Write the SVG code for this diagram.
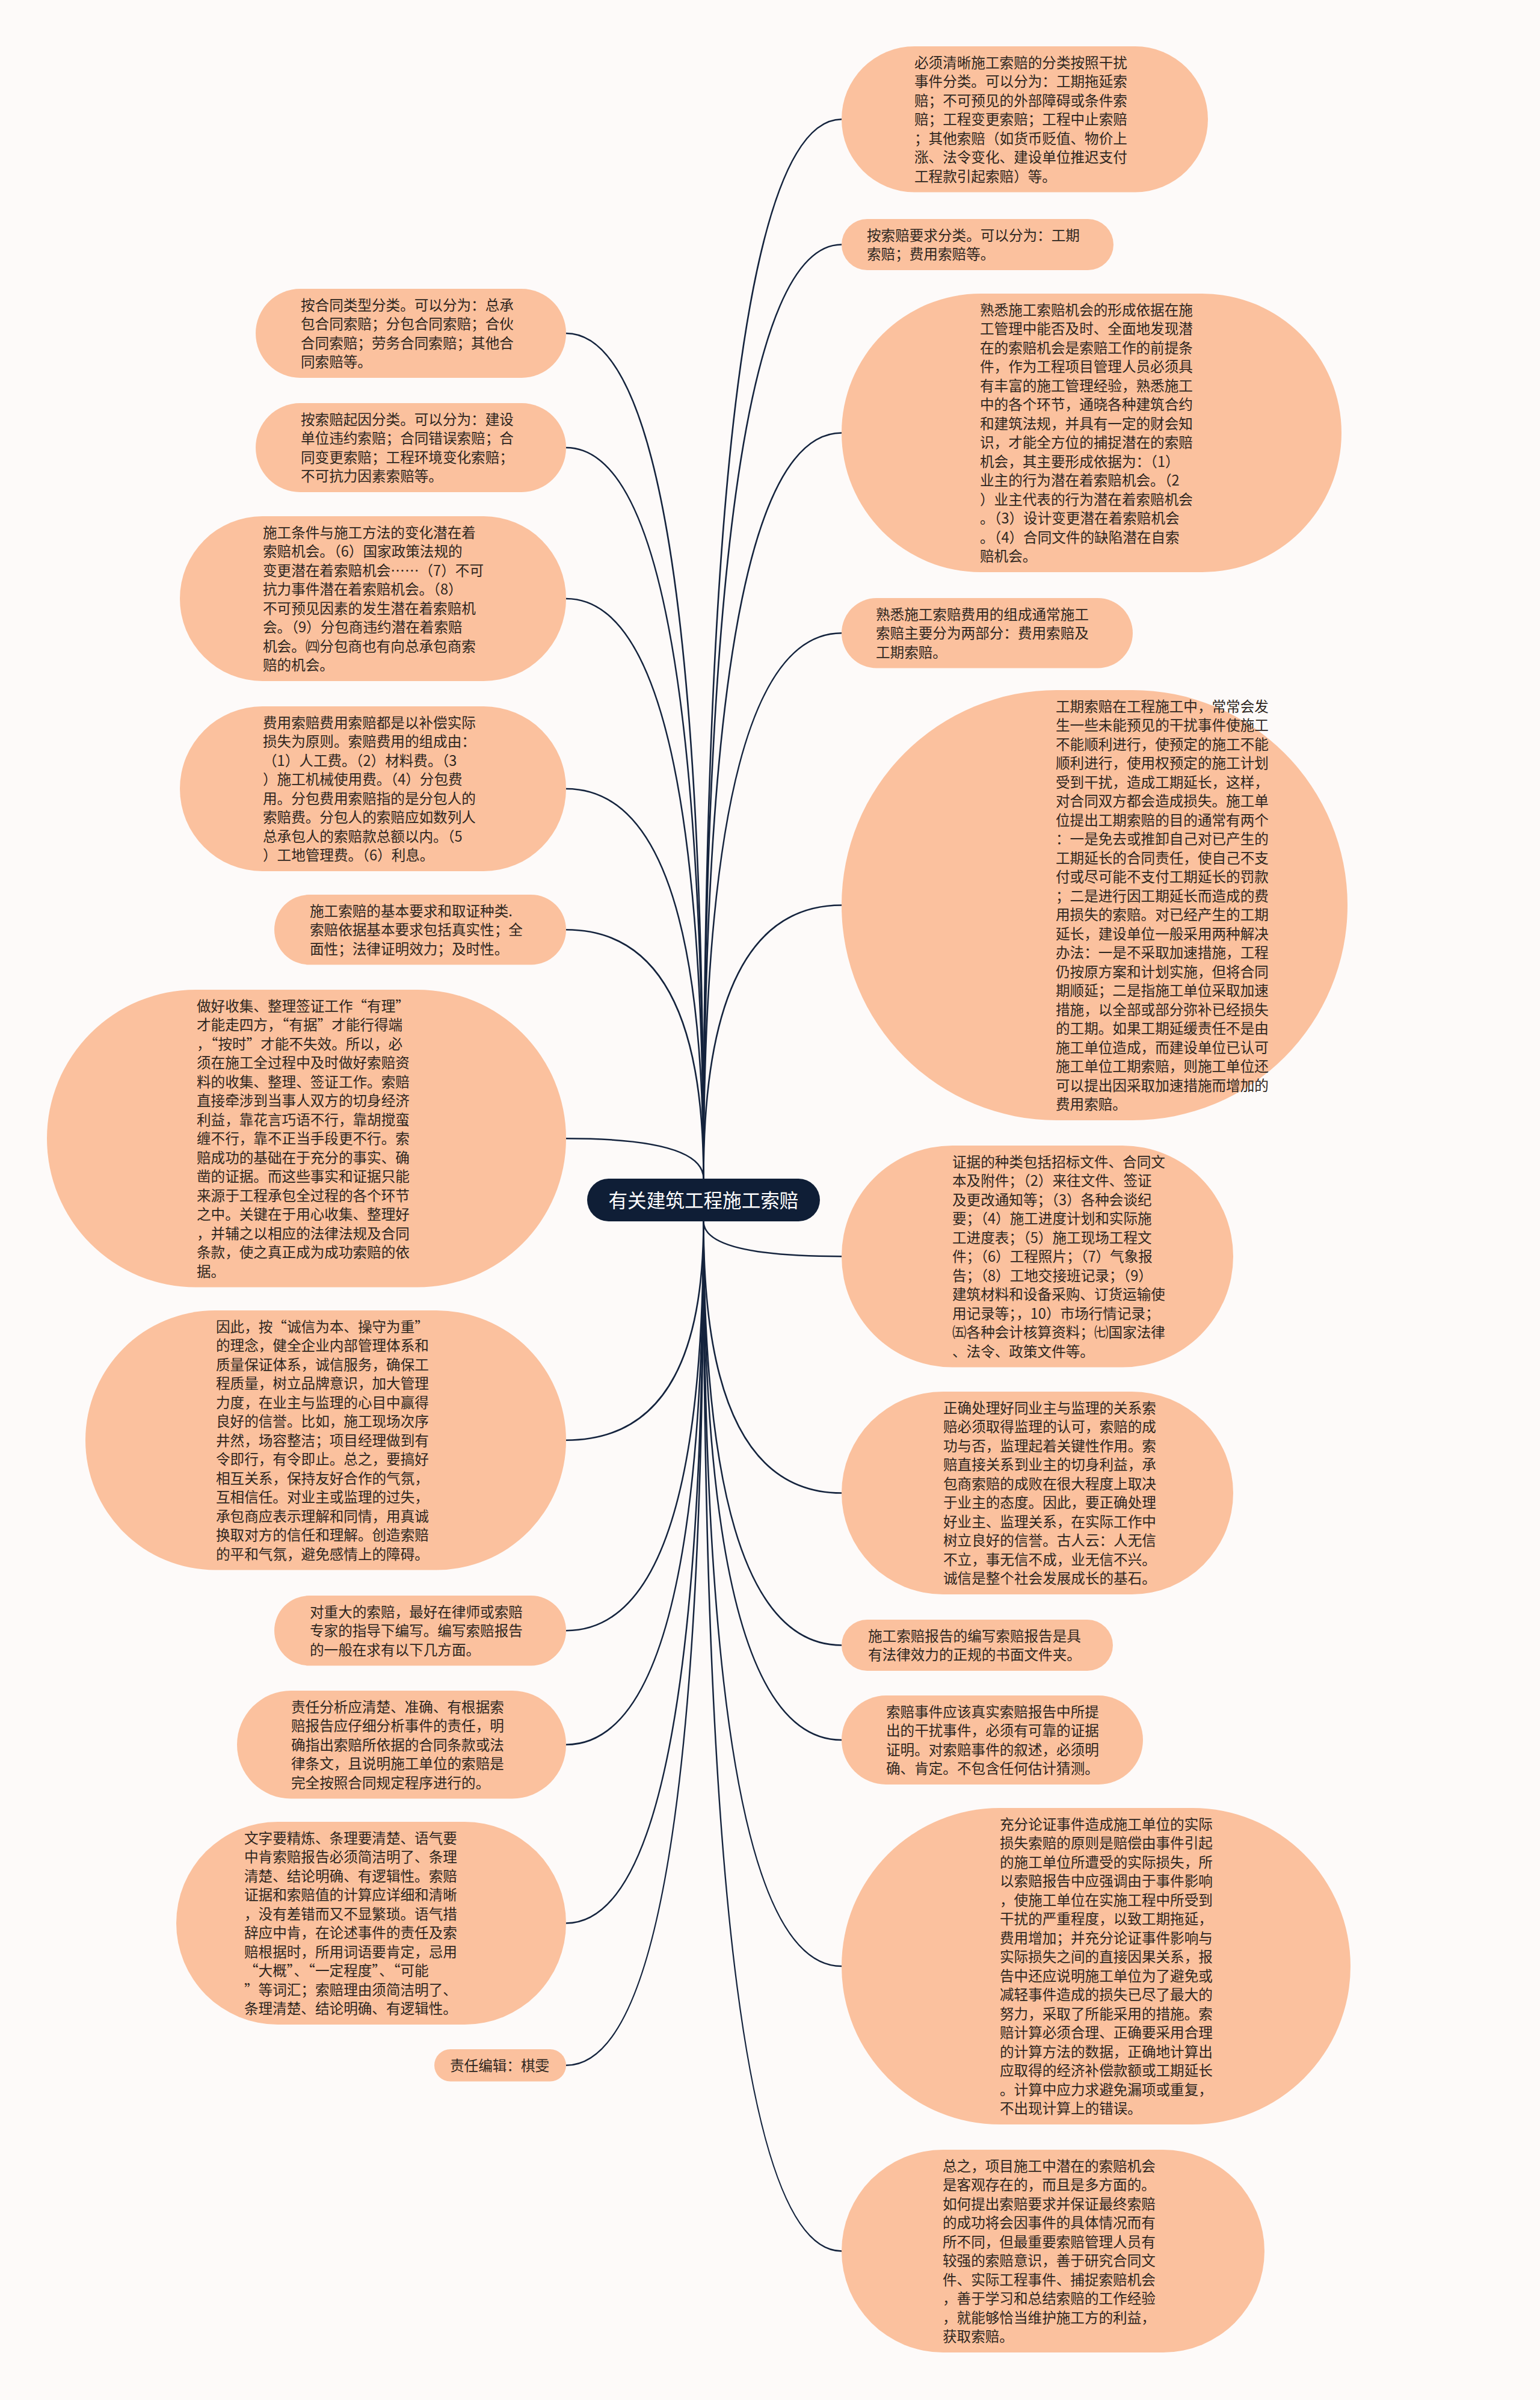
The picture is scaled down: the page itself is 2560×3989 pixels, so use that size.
<svg xmlns="http://www.w3.org/2000/svg" width="2560" height="3989" viewBox="0 0 2560 3989">
<style>
.bg{fill:#fdfaf9}
.n rect{fill:#fbc19e}
.t{font-family:"Noto Sans CJK SC","Noto Sans",sans-serif;font-size:23.6px;fill:#2e2620}
.rt{font-family:"Noto Sans CJK SC","Noto Sans",sans-serif;font-size:31.6px;fill:#ffffff}
.c path{fill:none;stroke:#14233d;stroke-width:2.6}
</style>
<rect class="bg" x="0" y="0" width="2560" height="3989"/>
<g id="connectors" class="c">
<path d="M1169.5 1959 Q1169.5 198.25 1399 198.25"/>
<path d="M1169.5 1959 Q1169.5 406.5 1399 406.5"/>
<path d="M1169.5 1959 Q1169.5 719.5 1399 719.5"/>
<path d="M1169.5 1959 Q1169.5 1052.25 1399 1052.25"/>
<path d="M1169.5 1959 Q1169.5 1504.5 1399 1504.5"/>
<path d="M1169.5 1959 Q1169.5 554 941 554"/>
<path d="M1169.5 1959 Q1169.5 744 941 744"/>
<path d="M1169.5 1959 Q1169.5 995 941 995"/>
<path d="M1169.5 1959 Q1169.5 1311 941 1311"/>
<path d="M1169.5 1959 Q1169.5 1545.25 941 1545.25"/>
<path d="M1169.5 1959 Q1169.5 1892.25 941 1892.25"/>
<path d="M1169.5 2030 Q1169.5 2088.25 1399 2088.25"/>
<path d="M1169.5 2030 Q1169.5 2481.5 1399 2481.5"/>
<path d="M1169.5 2030 Q1169.5 2734.5 1399 2734.5"/>
<path d="M1169.5 2030 Q1169.5 2892 1399 2892"/>
<path d="M1169.5 2030 Q1169.5 3268 1399 3268"/>
<path d="M1169.5 2030 Q1169.5 3741.5 1399 3741.5"/>
<path d="M1169.5 2030 Q1169.5 2393.75 941 2393.75"/>
<path d="M1169.5 2030 Q1169.5 2710.25 941 2710.25"/>
<path d="M1169.5 2030 Q1169.5 2899.75 941 2899.75"/>
<path d="M1169.5 2030 Q1169.5 3196.5 941 3196.5"/>
<path d="M1169.5 2030 Q1169.5 3432.75 941 3432.75"/>
</g>
<g id="root">
<rect x="976" y="1959" width="387" height="71" rx="35.5" fill="#0f1e36"/>
<text class="rt" x="1169.5" y="2006.5" text-anchor="middle">有关建筑工程施工索赔</text>
</g>
<g id="R1" class="n">
<rect x="1399" y="77" width="609" height="242.5" rx="121.25"/>
<text class="t" x="1520" y="112.75"><tspan x="1520">必须清晰施工索赔的分类按照干扰</tspan><tspan x="1520" dy="31.5">事件分类。可以分为：工期拖延索</tspan><tspan x="1520" dy="31.5">赔；不可预见的外部障碍或条件索</tspan><tspan x="1520" dy="31.5">赔；工程变更索赔；工程中止索赔</tspan><tspan x="1520" dy="31.5">；其他索赔（如货币贬值、物价上</tspan><tspan x="1520" dy="31.5">涨、法令变化、建设单位推迟支付</tspan><tspan x="1520" dy="31.5">工程款引起索赔）等。</tspan></text>
</g>
<g id="R2" class="n">
<rect x="1399" y="364" width="452" height="85" rx="42.5"/>
<text class="t" x="1441" y="399.75"><tspan x="1441">按索赔要求分类。可以分为：工期</tspan><tspan x="1441" dy="31.5">索赔；费用索赔等。</tspan></text>
</g>
<g id="R3" class="n">
<rect x="1399" y="488" width="831" height="463" rx="231.5"/>
<text class="t" x="1629" y="523.75"><tspan x="1629">熟悉施工索赔机会的形成依据在施</tspan><tspan x="1629" dy="31.5">工管理中能否及时、全面地发现潜</tspan><tspan x="1629" dy="31.5">在的索赔机会是索赔工作的前提条</tspan><tspan x="1629" dy="31.5">件，作为工程项目管理人员必须具</tspan><tspan x="1629" dy="31.5">有丰富的施工管理经验，熟悉施工</tspan><tspan x="1629" dy="31.5">中的各个环节，通晓各种建筑合约</tspan><tspan x="1629" dy="31.5">和建筑法规，并具有一定的财会知</tspan><tspan x="1629" dy="31.5">识，才能全方位的捕捉潜在的索赔</tspan><tspan x="1629" dy="31.5">机会，其主要形成依据为：（1）</tspan><tspan x="1629" dy="31.5">业主的行为潜在着索赔机会。（2</tspan><tspan x="1629" dy="31.5">）业主代表的行为潜在着索赔机会</tspan><tspan x="1629" dy="31.5">。（3）设计变更潜在着索赔机会</tspan><tspan x="1629" dy="31.5">。（4）合同文件的缺陷潜在自索</tspan><tspan x="1629" dy="31.5">赔机会。</tspan></text>
</g>
<g id="R4" class="n">
<rect x="1399" y="994" width="484" height="116.5" rx="58.25"/>
<text class="t" x="1456" y="1029.75"><tspan x="1456">熟悉施工索赔费用的组成通常施工</tspan><tspan x="1456" dy="31.5">索赔主要分为两部分：费用索赔及</tspan><tspan x="1456" dy="31.5">工期索赔。</tspan></text>
</g>
<g id="R5" class="n">
<rect x="1399" y="1147" width="841" height="715" rx="357.5"/>
<text class="t" x="1755" y="1182.75"><tspan x="1755">工期索赔在工程施工中，常常会发</tspan><tspan x="1755" dy="31.5">生一些未能预见的干扰事件使施工</tspan><tspan x="1755" dy="31.5">不能顺利进行，使预定的施工不能</tspan><tspan x="1755" dy="31.5">顺利进行，使用权预定的施工计划</tspan><tspan x="1755" dy="31.5">受到干扰，造成工期延长，这样，</tspan><tspan x="1755" dy="31.5">对合同双方都会造成损失。施工单</tspan><tspan x="1755" dy="31.5">位提出工期索赔的目的通常有两个</tspan><tspan x="1755" dy="31.5">：一是免去或推卸自己对已产生的</tspan><tspan x="1755" dy="31.5">工期延长的合同责任，使自己不支</tspan><tspan x="1755" dy="31.5">付或尽可能不支付工期延长的罚款</tspan><tspan x="1755" dy="31.5">；二是进行因工期延长而造成的费</tspan><tspan x="1755" dy="31.5">用损失的索赔。对已经产生的工期</tspan><tspan x="1755" dy="31.5">延长，建设单位一般采用两种解决</tspan><tspan x="1755" dy="31.5">办法：一是不采取加速措施，工程</tspan><tspan x="1755" dy="31.5">仍按原方案和计划实施，但将合同</tspan><tspan x="1755" dy="31.5">期顺延；二是指施工单位采取加速</tspan><tspan x="1755" dy="31.5">措施，以全部或部分弥补已经损失</tspan><tspan x="1755" dy="31.5">的工期。如果工期延缓责任不是由</tspan><tspan x="1755" dy="31.5">施工单位造成，而建设单位已认可</tspan><tspan x="1755" dy="31.5">施工单位工期索赔，则施工单位还</tspan><tspan x="1755" dy="31.5">可以提出因采取加速措施而增加的</tspan><tspan x="1755" dy="31.5">费用索赔。</tspan></text>
</g>
<g id="R6" class="n">
<rect x="1399" y="1904" width="651" height="368.5" rx="184.25"/>
<text class="t" x="1583" y="1939.75"><tspan x="1583">证据的种类包括招标文件、合同文</tspan><tspan x="1583" dy="31.5">本及附件；（2）来往文件、签证</tspan><tspan x="1583" dy="31.5">及更改通知等；（3）各种会谈纪</tspan><tspan x="1583" dy="31.5">要；（4）施工进度计划和实际施</tspan><tspan x="1583" dy="31.5">工进度表；（5）施工现场工程文</tspan><tspan x="1583" dy="31.5">件；（6）工程照片；（7）气象报</tspan><tspan x="1583" dy="31.5">告；（8）工地交接班记录；（9）</tspan><tspan x="1583" dy="31.5">建筑材料和设备采购、订货运输使</tspan><tspan x="1583" dy="31.5">用记录等；，10）市场行情记录；</tspan><tspan x="1583" dy="31.5">㈤各种会计核算资料；㈦国家法律</tspan><tspan x="1583" dy="31.5">、法令、政策文件等。</tspan></text>
</g>
<g id="R7" class="n">
<rect x="1399" y="2313" width="651" height="337" rx="168.5"/>
<text class="t" x="1568" y="2348.75"><tspan x="1568">正确处理好同业主与监理的关系索</tspan><tspan x="1568" dy="31.5">赔必须取得监理的认可，索赔的成</tspan><tspan x="1568" dy="31.5">功与否，监理起着关键性作用。索</tspan><tspan x="1568" dy="31.5">赔直接关系到业主的切身利益，承</tspan><tspan x="1568" dy="31.5">包商索赔的成败在很大程度上取决</tspan><tspan x="1568" dy="31.5">于业主的态度。因此，要正确处理</tspan><tspan x="1568" dy="31.5">好业主、监理关系，在实际工作中</tspan><tspan x="1568" dy="31.5">树立良好的信誉。古人云：人无信</tspan><tspan x="1568" dy="31.5">不立，事无信不成，业无信不兴。</tspan><tspan x="1568" dy="31.5">诚信是整个社会发展成长的基石。</tspan></text>
</g>
<g id="R8" class="n">
<rect x="1399" y="2692" width="451" height="85" rx="42.5"/>
<text class="t" x="1443" y="2727.75"><tspan x="1443">施工索赔报告的编写索赔报告是具</tspan><tspan x="1443" dy="31.5">有法律效力的正规的书面文件夹。</tspan></text>
</g>
<g id="R9" class="n">
<rect x="1399" y="2818" width="501" height="148" rx="74"/>
<text class="t" x="1473" y="2853.75"><tspan x="1473">索赔事件应该真实索赔报告中所提</tspan><tspan x="1473" dy="31.5">出的干扰事件，必须有可靠的证据</tspan><tspan x="1473" dy="31.5">证明。对索赔事件的叙述，必须明</tspan><tspan x="1473" dy="31.5">确、肯定。不包含任何估计猜测。</tspan></text>
</g>
<g id="R10" class="n">
<rect x="1399" y="3005" width="846" height="526" rx="263"/>
<text class="t" x="1662" y="3040.75"><tspan x="1662">充分论证事件造成施工单位的实际</tspan><tspan x="1662" dy="31.5">损失索赔的原则是赔偿由事件引起</tspan><tspan x="1662" dy="31.5">的施工单位所遭受的实际损失，所</tspan><tspan x="1662" dy="31.5">以索赔报告中应强调由于事件影响</tspan><tspan x="1662" dy="31.5">，使施工单位在实施工程中所受到</tspan><tspan x="1662" dy="31.5">干扰的严重程度，以致工期拖延，</tspan><tspan x="1662" dy="31.5">费用增加；并充分论证事件影响与</tspan><tspan x="1662" dy="31.5">实际损失之间的直接因果关系，报</tspan><tspan x="1662" dy="31.5">告中还应说明施工单位为了避免或</tspan><tspan x="1662" dy="31.5">减轻事件造成的损失已尽了最大的</tspan><tspan x="1662" dy="31.5">努力，采取了所能采用的措施。索</tspan><tspan x="1662" dy="31.5">赔计算必须合理、正确要采用合理</tspan><tspan x="1662" dy="31.5">的计算方法的数据，正确地计算出</tspan><tspan x="1662" dy="31.5">应取得的经济补偿款额或工期延长</tspan><tspan x="1662" dy="31.5">。计算中应力求避免漏项或重复，</tspan><tspan x="1662" dy="31.5">不出现计算上的错误。</tspan></text>
</g>
<g id="R11" class="n">
<rect x="1399" y="3573" width="703" height="337" rx="168.5"/>
<text class="t" x="1567" y="3608.75"><tspan x="1567">总之，项目施工中潜在的索赔机会</tspan><tspan x="1567" dy="31.5">是客观存在的，而且是多方面的。</tspan><tspan x="1567" dy="31.5">如何提出索赔要求并保证最终索赔</tspan><tspan x="1567" dy="31.5">的成功将会因事件的具体情况而有</tspan><tspan x="1567" dy="31.5">所不同，但最重要索赔管理人员有</tspan><tspan x="1567" dy="31.5">较强的索赔意识，善于研究合同文</tspan><tspan x="1567" dy="31.5">件、实际工程事件、捕捉索赔机会</tspan><tspan x="1567" dy="31.5">，善于学习和总结索赔的工作经验</tspan><tspan x="1567" dy="31.5">，就能够恰当维护施工方的利益，</tspan><tspan x="1567" dy="31.5">获取索赔。</tspan></text>
</g>
<g id="L1" class="n">
<rect x="425" y="480" width="516" height="148" rx="74"/>
<text class="t" x="500" y="515.75"><tspan x="500">按合同类型分类。可以分为：总承</tspan><tspan x="500" dy="31.5">包合同索赔；分包合同索赔；合伙</tspan><tspan x="500" dy="31.5">合同索赔；劳务合同索赔；其他合</tspan><tspan x="500" dy="31.5">同索赔等。</tspan></text>
</g>
<g id="L2" class="n">
<rect x="425" y="670" width="516" height="148" rx="74"/>
<text class="t" x="500" y="705.75"><tspan x="500">按索赔起因分类。可以分为：建设</tspan><tspan x="500" dy="31.5">单位违约索赔；合同错误索赔；合</tspan><tspan x="500" dy="31.5">同变更索赔；工程环境变化索赔；</tspan><tspan x="500" dy="31.5">不可抗力因素索赔等。</tspan></text>
</g>
<g id="L3" class="n">
<rect x="299" y="858" width="642" height="274" rx="137"/>
<text class="t" x="437" y="893.75"><tspan x="437">施工条件与施工方法的变化潜在着</tspan><tspan x="437" dy="31.5">索赔机会。（6）国家政策法规的</tspan><tspan x="437" dy="31.5">变更潜在着索赔机会……（7）不可</tspan><tspan x="437" dy="31.5">抗力事件潜在着索赔机会。（8）</tspan><tspan x="437" dy="31.5">不可预见因素的发生潜在着索赔机</tspan><tspan x="437" dy="31.5">会。（9）分包商违约潜在着索赔</tspan><tspan x="437" dy="31.5">机会。㈣分包商也有向总承包商索</tspan><tspan x="437" dy="31.5">赔的机会。</tspan></text>
</g>
<g id="L4" class="n">
<rect x="299" y="1174" width="642" height="274" rx="137"/>
<text class="t" x="437" y="1209.75"><tspan x="437">费用索赔费用索赔都是以补偿实际</tspan><tspan x="437" dy="31.5">损失为原则。索赔费用的组成由：</tspan><tspan x="437" dy="31.5">（1）人工费。（2）材料费。（3</tspan><tspan x="437" dy="31.5">）施工机械使用费。（4）分包费</tspan><tspan x="437" dy="31.5">用。分包费用索赔指的是分包人的</tspan><tspan x="437" dy="31.5">索赔费。分包人的索赔应如数列人</tspan><tspan x="437" dy="31.5">总承包人的索赔款总额以内。（5</tspan><tspan x="437" dy="31.5">）工地管理费。（6）利息。</tspan></text>
</g>
<g id="L5" class="n">
<rect x="456" y="1487" width="485" height="116.5" rx="58.25"/>
<text class="t" x="515" y="1522.75"><tspan x="515">施工索赔的基本要求和取证种类.</tspan><tspan x="515" dy="31.5">索赔依据基本要求包括真实性；全</tspan><tspan x="515" dy="31.5">面性；法律证明效力；及时性。</tspan></text>
</g>
<g id="L6" class="n">
<rect x="78" y="1645" width="863" height="494.5" rx="247.25"/>
<text class="t" x="327" y="1680.75"><tspan x="327">做好收集、整理签证工作“有理”</tspan><tspan x="327" dy="31.5">才能走四方，“有据”才能行得端</tspan><tspan x="327" dy="31.5">，“按时”才能不失效。所以，必</tspan><tspan x="327" dy="31.5">须在施工全过程中及时做好索赔资</tspan><tspan x="327" dy="31.5">料的收集、整理、签证工作。索赔</tspan><tspan x="327" dy="31.5">直接牵涉到当事人双方的切身经济</tspan><tspan x="327" dy="31.5">利益，靠花言巧语不行，靠胡搅蛮</tspan><tspan x="327" dy="31.5">缠不行，靠不正当手段更不行。索</tspan><tspan x="327" dy="31.5">赔成功的基础在于充分的事实、确</tspan><tspan x="327" dy="31.5">凿的证据。而这些事实和证据只能</tspan><tspan x="327" dy="31.5">来源于工程承包全过程的各个环节</tspan><tspan x="327" dy="31.5">之中。关键在于用心收集、整理好</tspan><tspan x="327" dy="31.5">，并辅之以相应的法律法规及合同</tspan><tspan x="327" dy="31.5">条款，使之真正成为成功索赔的依</tspan><tspan x="327" dy="31.5">据。</tspan></text>
</g>
<g id="L7" class="n">
<rect x="142" y="2178" width="799" height="431.5" rx="215.75"/>
<text class="t" x="359" y="2213.75"><tspan x="359">因此，按“诚信为本、操守为重”</tspan><tspan x="359" dy="31.5">的理念，健全企业内部管理体系和</tspan><tspan x="359" dy="31.5">质量保证体系，诚信服务，确保工</tspan><tspan x="359" dy="31.5">程质量，树立品牌意识，加大管理</tspan><tspan x="359" dy="31.5">力度，在业主与监理的心目中赢得</tspan><tspan x="359" dy="31.5">良好的信誉。比如，施工现场次序</tspan><tspan x="359" dy="31.5">井然，场容整洁；项目经理做到有</tspan><tspan x="359" dy="31.5">令即行，有令即止。总之，要搞好</tspan><tspan x="359" dy="31.5">相互关系，保持友好合作的气氛，</tspan><tspan x="359" dy="31.5">互相信任。对业主或监理的过失，</tspan><tspan x="359" dy="31.5">承包商应表示理解和同情，用真诚</tspan><tspan x="359" dy="31.5">换取对方的信任和理解。创造索赔</tspan><tspan x="359" dy="31.5">的平和气氛，避免感情上的障碍。</tspan></text>
</g>
<g id="L8" class="n">
<rect x="456" y="2652" width="485" height="116.5" rx="58.25"/>
<text class="t" x="515" y="2687.75"><tspan x="515">对重大的索赔，最好在律师或索赔</tspan><tspan x="515" dy="31.5">专家的指导下编写。编写索赔报告</tspan><tspan x="515" dy="31.5">的一般在求有以下几方面。</tspan></text>
</g>
<g id="L9" class="n">
<rect x="394" y="2810" width="547" height="179.5" rx="89.75"/>
<text class="t" x="484" y="2845.75"><tspan x="484">责任分析应清楚、准确、有根据索</tspan><tspan x="484" dy="31.5">赔报告应仔细分析事件的责任，明</tspan><tspan x="484" dy="31.5">确指出索赔所依据的合同条款或法</tspan><tspan x="484" dy="31.5">律条文，且说明施工单位的索赔是</tspan><tspan x="484" dy="31.5">完全按照合同规定程序进行的。</tspan></text>
</g>
<g id="L10" class="n">
<rect x="293" y="3028" width="648" height="337" rx="168.5"/>
<text class="t" x="406" y="3063.75"><tspan x="406">文字要精炼、条理要清楚、语气要</tspan><tspan x="406" dy="31.5">中肯索赔报告必须简洁明了、条理</tspan><tspan x="406" dy="31.5">清楚、结论明确、有逻辑性。索赔</tspan><tspan x="406" dy="31.5">证据和索赔值的计算应详细和清晰</tspan><tspan x="406" dy="31.5">，没有差错而又不显繁琐。语气措</tspan><tspan x="406" dy="31.5">辞应中肯，在论述事件的责任及索</tspan><tspan x="406" dy="31.5">赔根据时，所用词语要肯定，忌用</tspan><tspan x="406" dy="31.5">“大概”、“一定程度”、“可能</tspan><tspan x="406" dy="31.5">”等词汇；索赔理由须简洁明了、</tspan><tspan x="406" dy="31.5">条理清楚、结论明确、有逻辑性。</tspan></text>
</g>
<g id="L11" class="n">
<rect x="722" y="3406" width="219" height="53.5" rx="26.75"/>
<text class="t" x="748" y="3441.75">责任编辑：棋雯</text>
</g>
</svg>
